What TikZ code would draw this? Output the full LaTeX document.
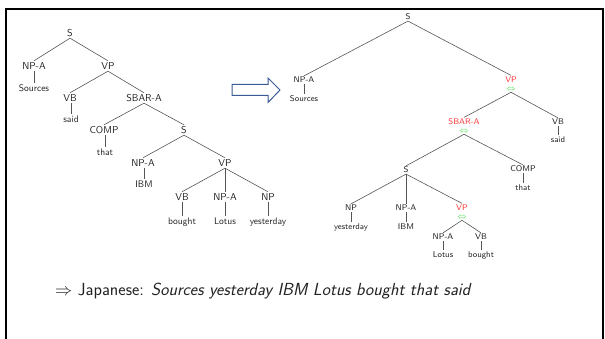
\documentclass[tikz,border=0pt]{standalone}
\usepackage{xcolor}
\definecolor{linegray}{HTML}{555555}
\definecolor{txt}{HTML}{222222}
\definecolor{redlab}{HTML}{FF3B3B}
\definecolor{grn}{HTML}{4FDD4F}
\definecolor{arrblue}{HTML}{3A5A96}
\begin{document}
\begin{tikzpicture}[x=1pt,y=-1pt,
  every node/.style={font=\sffamily, text=txt, inner sep=1.5pt},
  lcat/.style={font=\sffamily\fontsize{10}{12}\selectfont, text height=7pt, text depth=0pt},
  lleaf/.style={font=\sffamily\fontsize{9.5}{11}\selectfont, text height=7pt, text depth=2pt},
  rcat/.style={font=\sffamily\fontsize{8.3}{10}\selectfont, text height=5.8pt, text depth=0pt, inner ysep=1pt},
  rleaf/.style={font=\sffamily\fontsize{8.3}{10}\selectfont, text height=5.8pt, text depth=1.6pt},
  red/.style={text=redlab},
  swap/.style={font=\fontsize{9}{10}\selectfont, text=grn, inner sep=0.5pt, text height=4.2pt, text depth=0pt},
  edge/.style={draw=linegray, line width=0.6pt}
]
\useasboundingbox (0,0) rectangle (605,339);
% frame
\draw[line width=2.3pt, black] (6,340) -- (6,9) -- (603,9) -- (603,340);

% ---------- left tree ----------
\node[lcat] (lS) at (70,33) {S};
\node[lcat] (lNPA) at (34,66) {NP-A};
\node[lleaf] (lSources) at (34,89) {Sources};
\node[lcat] (lVP) at (108,66) {VP};
\node[lcat] (lVB) at (70,98) {VB};
\node[lleaf] (lsaid) at (71,120) {said};
\node[lcat] (lSBAR) at (144,98) {SBAR-A};
\node[lcat] (lCOMP) at (104,130) {COMP};
\node[lleaf] (lthat) at (105,153) {that};
\node[lcat] (lS2) at (184,130) {S};
\node[lcat] (lNPA2) at (143,163) {NP-A};
\node[lleaf] (lIBM) at (144,185) {IBM};
\node[lcat] (lVP2) at (225,163) {VP};
\node[lcat] (lVB2) at (182,197) {VB};
\node[lleaf] (lbought) at (182,222) {bought};
\node[lcat] (lNPA3) at (225,197) {NP-A};
\node[lleaf] (lLotus) at (225,222) {Lotus};
\node[lcat] (lNP) at (268,197) {NP};
\node[lleaf] (lyesterday) at (268,222) {yesterday};

\foreach \a/\b in {lS/lNPA, lS/lVP, lVP/lVB, lVP/lSBAR, lSBAR/lCOMP, lSBAR/lS2,
  lS2/lNPA2, lS2/lVP2, lVP2/lVB2, lVP2/lNPA3, lVP2/lNP}
  \draw[edge] (\a.south) -- (\b.north);
\foreach \a/\b in {lNPA/lSources, lVB/lsaid, lCOMP/lthat, lNPA2/lIBM, lVB2/lbought, lNPA3/lLotus, lNP/lyesterday}
  \draw[edge] (\b.north) -- (\b.north |- \a.south);

% ---------- block arrow ----------
\draw[draw=arrblue, line width=1pt, fill=white, line join=miter]
  (232,84.5) -- (268,84.5) -- (268,78) -- (280,90) -- (268,102.5) -- (268,95.5) -- (232,95.5) -- cycle;

% ---------- right tree ----------
\node[rcat] (rS) at (408,17) {S};
\node[rcat] (rNPA) at (304,80) {NP-A};
\node[rleaf] (rSources) at (304,99) {Sources};
\node[rcat, red] (rVP) at (511,79.5) {VP};
\node[swap] (rVPx) at (511,89.5) {$\Leftrightarrow$};
\node[rcat, red] (rSBAR) at (464,121.5) {SBAR-A};
\node[swap] (rSBARx) at (464,131.5) {$\Leftrightarrow$};
\node[rcat] (rVB) at (558,122) {VB};
\node[rleaf] (rsaid) at (558,140.5) {said};
\node[rcat] (rS2) at (406,170) {S};
\node[rcat] (rCOMP) at (523,169) {COMP};
\node[rleaf] (rthat) at (523,188.5) {that};
\node[rcat] (rNP) at (351,208) {NP};
\node[rleaf] (ryesterday) at (351,227.5) {yesterday};
\node[rcat] (rNPA2) at (406,208) {NP-A};
\node[rleaf] (rIBM) at (406,227.5) {IBM};
\node[rcat, red] (rVP2) at (462,207.5) {VP};
\node[swap] (rVP2x) at (462,217.5) {$\Leftrightarrow$};
\node[rcat] (rNPA3) at (443,237) {NP-A};
\node[rleaf] (rLotus) at (443,255.5) {Lotus};
\node[rcat] (rVB2) at (481,237) {VB};
\node[rleaf] (rbought) at (481,255.5) {bought};

\foreach \a/\b in {rS/rNPA, rS/rVP, rVPx/rSBAR, rVPx/rVB, rSBARx/rS2, rSBARx/rCOMP,
  rS2/rNP, rS2/rNPA2, rS2/rVP2, rVP2x/rNPA3, rVP2x/rVB2}
  \draw[edge] (\a.south) -- (\b.north);
\foreach \a/\b in {rNPA/rSources, rVB/rsaid, rCOMP/rthat, rNP/ryesterday, rNPA2/rIBM, rNPA3/rLotus, rVB2/rbought}
  \draw[edge] (\b.north) -- (\b.north |- \a.south);

% ---------- bottom line ----------
\node[anchor=west, font=\sffamily\fontsize{17.5}{20}\selectfont, inner sep=0pt] (jap) at (55,291)
  {$\Rightarrow$ Japanese: \textit{Sources yesterday IBM Lotus bought that said}};
\end{tikzpicture}
\end{document}
